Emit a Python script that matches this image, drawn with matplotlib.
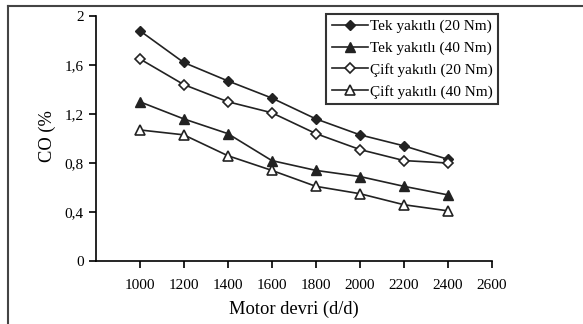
import matplotlib
matplotlib.use("Agg")
import matplotlib.pyplot as plt
from matplotlib.lines import Line2D

# Data
rpm = [1000, 1200, 1400, 1600, 1800, 2000, 2200, 2400]
tek_20 = [1.88, 1.62, 1.47, 1.33, 1.16, 1.03, 0.94, 0.83]
tek_40 = [1.30, 1.16, 1.04, 0.82, 0.74, 0.69, 0.61, 0.54]
cift_20 = [1.65, 1.44, 1.30, 1.21, 1.04, 0.91, 0.82, 0.80]
cift_40 = [1.07, 1.03, 0.86, 0.74, 0.61, 0.55, 0.46, 0.41]

x_ticks = [1000, 1200, 1400, 1600, 1800, 2000, 2200, 2400, 2600]
y_ticks = [0, 0.4, 0.8, 1.2, 1.6, 2.0]
y_tick_labels = ["0", "0,4", "0,8", "1,2", "1,6", "2"]

plt.rcParams["font.family"] = ["Liberation Serif", "DejaVu Serif"]

fig = plt.figure(figsize=(5.83, 3.24), dpi=100)
ax = fig.add_axes([0.164, 0.194, 0.680, 0.757])

lc = "#222222"
ax.plot(rpm, tek_20, color=lc, lw=1.2, marker="D", ms=5,
        mfc=lc, mec=lc, label="Tek yakıtlı (20 Nm)")
ax.plot(rpm, tek_40, color=lc, lw=1.2, marker="^", ms=7,
        mfc=lc, mec=lc, label="Tek yakıtlı (40 Nm)")
ax.plot(rpm, cift_20, color=lc, lw=1.2, marker="D", ms=5,
        mfc="white", mec=lc, mew=1.2, label="Çift yakıtlı (20 Nm)")
ax.plot(rpm, cift_40, color=lc, lw=1.2, marker="^", ms=7,
        mfc="white", mec=lc, mew=1.2, label="Çift yakıtlı (40 Nm)")

ax.set_xlim(800, 2600)
ax.set_ylim(0, 2)
ax.set_xticks(x_ticks)
ax.set_yticks(y_ticks)
ax.set_yticklabels(y_tick_labels)
ax.tick_params(labelsize=11, direction="out", length=5, width=1.2, colors="black")
ax.tick_params(axis="x", pad=8)
for s in ["top", "right"]:
    ax.spines[s].set_visible(False)
for s in ["left", "bottom"]:
    ax.spines[s].set_linewidth(1.2)

ax.set_xlabel("Motor devri (d/d)", fontsize=13.3, labelpad=6)
ax.set_ylabel("CO (%", fontsize=13.3)
ax.yaxis.set_label_coords(-0.10, 0.51)

leg = ax.legend(loc="upper right", bbox_to_anchor=(498 / 583, 1 - 14 / 324),
                bbox_transform=fig.transFigure, fontsize=11, frameon=True,
                fancybox=False, edgecolor="black", handlelength=2.4,
                handletextpad=0.1, borderpad=0.35, labelspacing=0.52,
                borderaxespad=0)
leg.get_frame().set_linewidth(1.5)

# page frame (top and left edges)
fig.add_artist(Line2D([7.5 / 583, 1], [1 - 5.5 / 324] * 2,
                      transform=fig.transFigure, color="#444444", lw=1.5))
fig.add_artist(Line2D([7.5 / 583] * 2, [0, 1 - 5.5 / 324],
                      transform=fig.transFigure, color="#444444", lw=1.5))

fig.savefig("out.png", dpi=100)
